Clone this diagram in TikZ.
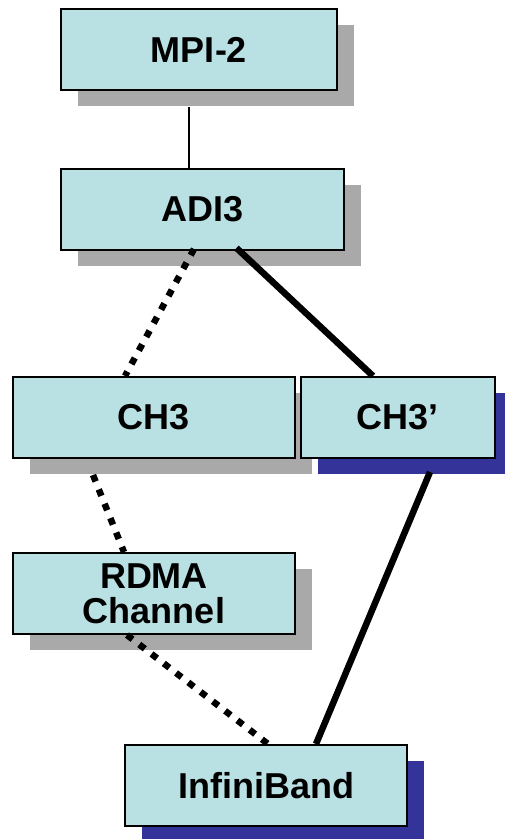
\documentclass[tikz,border=0pt]{standalone}
\usepackage{fontspec}
\setmainfont{Liberation Sans}
\usetikzlibrary{shadows}

\definecolor{boxfill}{HTML}{B9E0E3}
\definecolor{shadegray}{HTML}{A9A9A9}
\definecolor{shadenavy}{HTML}{333399}

\tikzset{
    layerbox/.style={draw, line width=2pt, fill=boxfill, inner sep=0pt,
        minimum height=81pt, align=center,
        font=\fontsize{36}{35}\selectfont\bfseries},
    grayshadow/.style={drop shadow={shadow xshift=17pt, shadow yshift=-16pt,
        fill=shadegray, opacity=1}},
    navyshadow/.style={drop shadow={shadow xshift=17pt, shadow yshift=-16pt,
        fill=shadenavy, opacity=1}},
    dotlink/.style={line width=6.5pt, dash pattern=on 7pt off 8.5pt},
    boldlink/.style={line width=6.5pt},
}

\begin{document}
\begin{tikzpicture}[x=1pt, y=-1pt]
    \useasboundingbox (0,0) rectangle (504,839);
    % 各层
    \node[layerbox, grayshadow, minimum width=276pt] (mpi) at (199,49.5) {MPI-2};
    \node[layerbox, grayshadow, minimum width=283pt] (adi) at (202.5,209.5) {ADI3};
    \node[layerbox, grayshadow, minimum width=282pt] (ch3) at (154,417.5) {CH3};
    \node[layerbox, navyshadow, minimum width=194pt] (ch3p) at (398,417.5) {CH3’};
    \node[layerbox, grayshadow, minimum width=282pt] (rdma) at (154,593.5) {RDMA\\Channel};
    \node[layerbox, navyshadow, minimum width=282pt] (ib) at (266,785.5) {InfiniBand};

    % 连接
    \draw[line width=1.2pt] ([xshift=-10pt,yshift=-16pt]mpi.south) -- ([xshift=-13.5pt]adi.north);
    \draw[dotlink] ([xshift=-8.5pt,yshift=2pt]adi.south) -- ([xshift=-29pt]ch3.north);
    \draw[boldlink] ([xshift=34pt,yshift=3pt]adi.south) -- ([xshift=-25pt]ch3p.north);
    \draw[dotlink] ([xshift=-61pt,yshift=-16pt]ch3.south) -- ([xshift=-30pt]rdma.north);
    \draw[dotlink] ([xshift=-27pt]rdma.south) -- ([xshift=2pt]ib.north);
    \draw[boldlink] ([xshift=32pt,yshift=-13pt]ch3p.south) -- ([xshift=50pt]ib.north);
\end{tikzpicture}
\end{document}
